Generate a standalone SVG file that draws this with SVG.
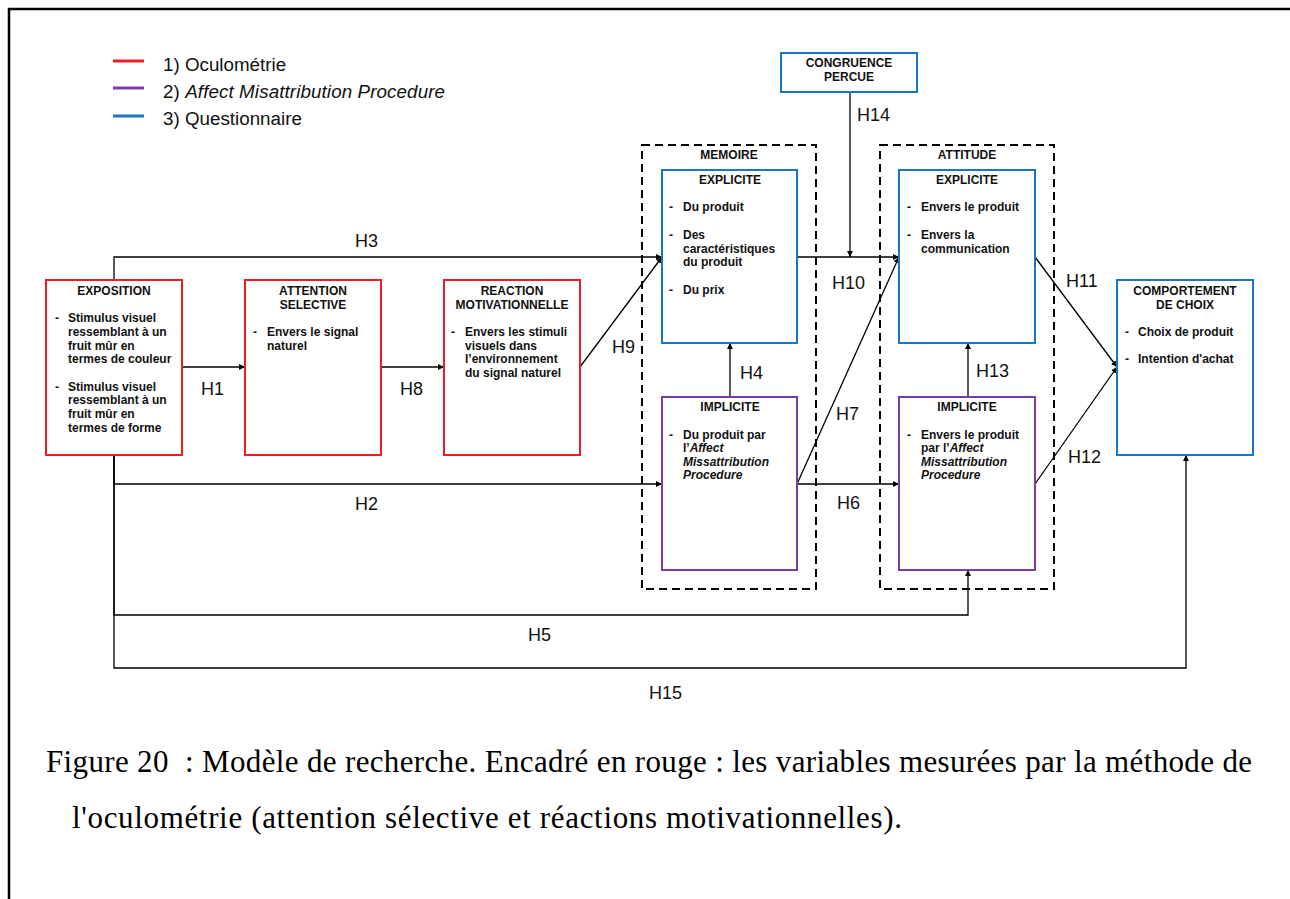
<svg xmlns="http://www.w3.org/2000/svg" width="1290" height="899" viewBox="0 0 1290 899">
<defs>
<marker id="arr" markerUnits="userSpaceOnUse" markerWidth="7" markerHeight="6" refX="6" refY="3" orient="auto">
<path d="M0,0 L6,3 L0,6 z" fill="#000"/>
</marker>
<style>
.box{fill:#fff;stroke-width:2}
.red{stroke:#ee1c24}
.blue{stroke:#1c75c4}
.pur{stroke:#7a3aa8}
.grp{fill:none;stroke:#000;stroke-width:2;stroke-dasharray:8 5}
.t{font-family:"Liberation Sans",Arial,sans-serif;font-size:12px;font-weight:bold;fill:#111}
.c{text-anchor:middle}
.i{font-style:italic}
.h{font-family:"Liberation Sans",Arial,sans-serif;font-size:18px;fill:#111}
.lg{font-family:"Liberation Sans",Arial,sans-serif;font-size:18.8px;fill:#111}
.con{fill:none;stroke:#000;stroke-width:1.3}
.cap{font-family:"Liberation Serif","Times New Roman",serif;font-size:31px;fill:#000}
</style>
</defs>
<rect x="0" y="0" width="1290" height="899" fill="#fff"/>
<g id="frame">
<line x1="8" y1="9" x2="1290" y2="9" stroke="#000" stroke-width="2.5"/>
<line x1="9" y1="8" x2="9" y2="899" stroke="#000" stroke-width="2.5"/>
</g>
<g id="legend">
<line x1="113" y1="61" x2="144" y2="61" stroke="#ee1c24" stroke-width="3"/>
<line x1="113" y1="88" x2="144" y2="88" stroke="#7a3aa8" stroke-width="3"/>
<line x1="113" y1="116" x2="144" y2="116" stroke="#1c75c4" stroke-width="3"/>
<text class="lg" x="163" y="71">1) Oculométrie</text>
<text class="lg" x="163" y="98" textLength="282" lengthAdjust="spacing">2) <tspan class="i">Affect Misattribution Procedure</tspan></text>
<text class="lg" x="163" y="125">3) Questionnaire</text>
</g>
<g id="memoire">
<rect class="grp" x="642" y="145" width="174" height="444"/>
<text class="t c" x="729" y="159">MEMOIRE</text>
</g>
<g id="attitude">
<rect class="grp" x="880" y="145" width="174" height="444"/>
<text class="t c" x="967" y="159">ATTITUDE</text>
</g>
<g id="connectors">
<path class="con" d="M182,367 H245" marker-end="url(#arr)"/>
<path class="con" d="M381,367 H444" marker-end="url(#arr)"/>
<path class="con" d="M580,367 L662,257" marker-end="url(#arr)"/>
<path class="con" d="M114,280 V257 H662" marker-end="url(#arr)"/>
<path class="con" d="M114,455 V484 H662" marker-end="url(#arr)"/>
<path class="con" d="M114,455 V615 H968 V570" marker-end="url(#arr)"/>
<path class="con" d="M114,455 V668 H1186 V455" marker-end="url(#arr)"/>
<path class="con" d="M730,397 V343" marker-end="url(#arr)"/>
<path class="con" d="M968,397 V343" marker-end="url(#arr)"/>
<path class="con" d="M797,257 H899" marker-end="url(#arr)"/>
<path class="con" d="M850,92 V257" marker-end="url(#arr)"/>
<path class="con" d="M797,484 L899,257" marker-end="url(#arr)"/>
<path class="con" d="M797,484 H899" marker-end="url(#arr)"/>
<path class="con" d="M1035,257 L1117,367" marker-end="url(#arr)"/>
<path class="con" d="M1035,484 L1117,367" marker-end="url(#arr)"/>
<text class="h" x="201" y="395">H1</text>
<text class="h" x="400" y="395">H8</text>
<text class="h" x="612" y="353">H9</text>
<text class="h" x="355" y="247">H3</text>
<text class="h" x="355" y="510">H2</text>
<text class="h" x="528" y="641">H5</text>
<text class="h" x="649" y="699">H15</text>
<text class="h" x="740" y="379">H4</text>
<text class="h" x="976" y="377">H13</text>
<text class="h" x="832" y="289">H10</text>
<text class="h" x="857" y="121">H14</text>
<text class="h" x="836" y="420">H7</text>
<text class="h" x="837" y="509">H6</text>
<text class="h" x="1066" y="287">H11</text>
<text class="h" x="1068" y="463">H12</text>
</g>
<g id="exposition">
<rect class="box red" x="46" y="280" width="136" height="175"/>
<text class="t c" x="114" y="295">EXPOSITION</text>
<text class="t" x="55" y="322">-</text>
<text class="t" x="68" y="322">Stimulus visuel</text>
<text class="t" x="68" y="336">ressemblant à un</text>
<text class="t" x="68" y="350">fruit mûr en</text>
<text class="t" x="68" y="363">termes de couleur</text>
<text class="t" x="55" y="391">-</text>
<text class="t" x="68" y="391">Stimulus visuel</text>
<text class="t" x="68" y="404">ressemblant à un</text>
<text class="t" x="68" y="418">fruit mûr en</text>
<text class="t" x="68" y="432">termes de forme</text>
</g>
<g id="attention">
<rect class="box red" x="245" y="280" width="136" height="175"/>
<text class="t c" x="313" y="295">ATTENTION</text>
<text class="t c" x="313" y="309">SELECTIVE</text>
<text class="t" x="253" y="336">-</text>
<text class="t" x="267" y="336">Envers le signal</text>
<text class="t" x="267" y="350">naturel</text>
</g>
<g id="reaction">
<rect class="box red" x="444" y="280" width="136" height="175"/>
<text class="t c" x="512" y="295">REACTION</text>
<text class="t c" x="512" y="309">MOTIVATIONNELLE</text>
<text class="t" x="451" y="336">-</text>
<text class="t" x="465" y="336">Envers les stimuli</text>
<text class="t" x="465" y="350">visuels dans</text>
<text class="t" x="465" y="363">l’environnement</text>
<text class="t" x="465" y="377">du signal naturel</text>
</g>
<g id="congruence">
<rect class="box blue" x="781" y="53" width="136" height="39"/>
<text class="t c" x="849" y="67">CONGRUENCE</text>
<text class="t c" x="849" y="81">PERCUE</text>
</g>
<g id="memoire-explicite">
<rect class="box blue" x="662" y="170" width="135" height="173"/>
<text class="t c" x="730" y="184">EXPLICITE</text>
<text class="t" x="669" y="211">-</text>
<text class="t" x="683" y="211">Du produit</text>
<text class="t" x="669" y="239">-</text>
<text class="t" x="683" y="239">Des</text>
<text class="t" x="683" y="253">caractéristiques</text>
<text class="t" x="683" y="266">du produit</text>
<text class="t" x="669" y="294">-</text>
<text class="t" x="683" y="294">Du prix</text>
</g>
<g id="memoire-implicite">
<rect class="box pur" x="662" y="397" width="135" height="173"/>
<text class="t c" x="730" y="411">IMPLICITE</text>
<text class="t" x="669" y="439">-</text>
<text class="t" x="683" y="439">Du produit par</text>
<text class="t" x="683" y="452">l’<tspan class="i">Affect</tspan></text>
<text class="t i" x="683" y="466">Missattribution</text>
<text class="t i" x="683" y="479">Procedure</text>
</g>
<g id="attitude-explicite">
<rect class="box blue" x="899" y="170" width="136" height="173"/>
<text class="t c" x="967" y="184">EXPLICITE</text>
<text class="t" x="907" y="211">-</text>
<text class="t" x="921" y="211">Envers le produit</text>
<text class="t" x="907" y="239">-</text>
<text class="t" x="921" y="239">Envers la</text>
<text class="t" x="921" y="253">communication</text>
</g>
<g id="attitude-implicite">
<rect class="box pur" x="899" y="397" width="136" height="173"/>
<text class="t c" x="967" y="411">IMPLICITE</text>
<text class="t" x="907" y="439">-</text>
<text class="t" x="921" y="439">Envers le produit</text>
<text class="t" x="921" y="452">par l’<tspan class="i">Affect</tspan></text>
<text class="t i" x="921" y="466">Missattribution</text>
<text class="t i" x="921" y="479">Procedure</text>
</g>
<g id="comportement">
<rect class="box blue" x="1117" y="280" width="136" height="175"/>
<text class="t c" x="1185" y="295">COMPORTEMENT</text>
<text class="t c" x="1185" y="309">DE CHOIX</text>
<text class="t" x="1125" y="336">-</text>
<text class="t" x="1138" y="336">Choix de produit</text>
<text class="t" x="1125" y="363">-</text>
<text class="t" x="1138" y="363">Intention d'achat</text>
</g>
<g id="caption">
<text class="cap" x="46" y="772" textLength="1206" lengthAdjust="spacing">Figure 20&#160; : Modèle de recherche. Encadré en rouge : les variables mesurées par la méthode de</text>
<text class="cap" x="72" y="828" textLength="830" lengthAdjust="spacing">l'oculométrie (attention sélective et réactions motivationnelles).</text>
</g>
</svg>
